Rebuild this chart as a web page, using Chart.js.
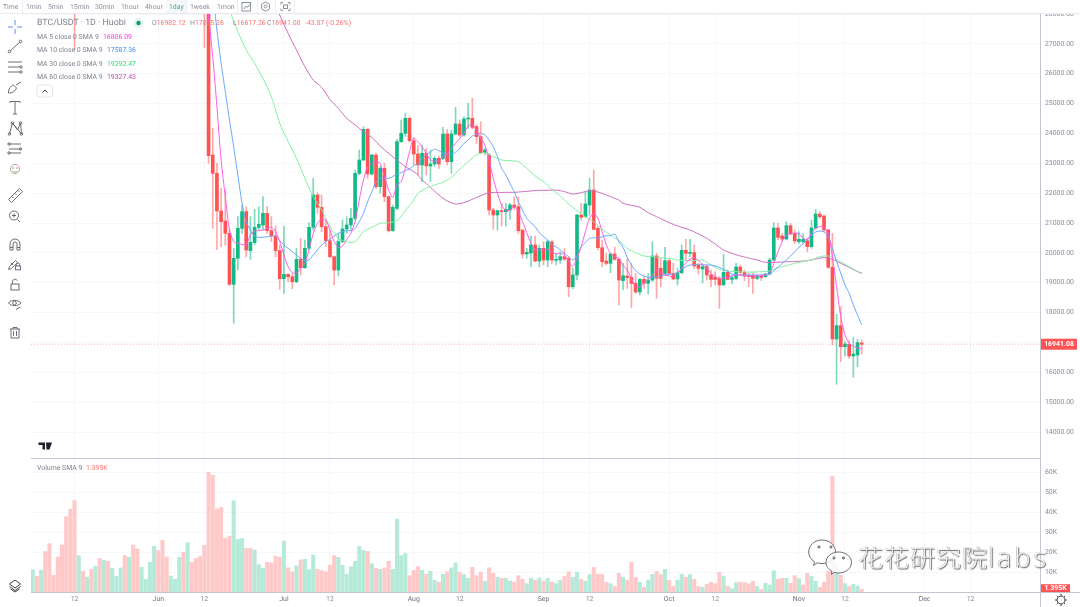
<!DOCTYPE html>
<html>
<head>
<meta charset="utf-8">
<title>BTC/USDT 1D Huobi</title>
<script src="https://cdn.jsdelivr.net/npm/chart.js@4/dist/chart.umd.min.js"></script>
<style>
  html, body { margin: 0; padding: 0; background: #fff; }
  #page { position: relative; width: 1080px; height: 607px; overflow: hidden; font-family: Roboto, sans-serif; font-size: 6.9px; color: #7d8290; text-rendering: geometricPrecision; }
  canvas { position: absolute; }
  #priceCanvas { left: 31px; top: 12px; }
  #volumeCanvas { left: 31px; top: 459px; }
  .t { position: absolute; white-space: nowrap; line-height: 10px; }
  .rule { position: absolute; background: #c3c6d2; }
  #toolbar { position: absolute; left: 0; top: 0; width: 1080px; height: 13px; background: #fff; border-bottom: 1px solid #e9ebf1; }
  #toolbar .t { top: 2px; color: #8b909e; }
  #toolbar .sep { position: absolute; top: 0; width: 1px; height: 13px; background: #eceef3; }
  #mark { position: absolute; left: 858px; top: 540px; white-space: nowrap; color: rgba(255,255,255,.85); font-family: "Noto Sans CJK SC", sans-serif; font-size: 25px; line-height: 34px; font-weight: 300; letter-spacing: 1px; text-shadow: 1px 1px 1px rgba(50,50,50,.75), -0.5px -0.5px 0.5px rgba(90,90,90,.5); }
  #mark span { font-family: "Open Sans", sans-serif; font-size: 27px; letter-spacing: 3px; }
  svg { position: absolute; left: 0; top: 0; }
</style>
</head>
<body>
<div id="page">
  <canvas id="priceCanvas" width="1049" height="446"></canvas>
  <canvas id="volumeCanvas" width="1049" height="148"></canvas>

  <div class="rule" style="left:31px;top:458px;width:1009px;height:1px"></div>
  <div class="rule" style="left:31px;top:592px;width:1049px;height:1px"></div>
  <div class="rule" style="left:1040px;top:13px;width:1px;height:594px"></div>

  <div id="toolbar">
    <div class="sep" style="left:22px"></div>
    <div class="sep" style="left:166px"></div>
    <div class="sep" style="left:186px"></div>
    <div class="sep" style="left:237px"></div>
    <div class="sep" style="left:257px"></div>
    <div class="sep" style="left:275px"></div>
    <div class="sep" style="left:294px"></div>
    <div style="position:absolute;left:166px;top:0;width:20px;height:13px;background:#f5f7f9"></div>
    <div class="t" style="left:3px">Time</div>
    <div class="t" style="left:26px">1min</div>
    <div class="t" style="left:48px">5min</div>
    <div class="t" style="left:70px">15min</div>
    <div class="t" style="left:95px">30min</div>
    <div class="t" style="left:121px">1hour</div>
    <div class="t" style="left:145px">4hour</div>
    <div class="t" style="left:169px;color:#3fae94">1day</div>
    <div class="t" style="left:190px">1week</div>
    <div class="t" style="left:217px">1mon</div>
  </div>

  <div class="t" style="left:37px;top:18px;font-size:8.8px;color:#7b8090">BTC/USDT · 1D · Huobi</div>
  <div class="t" style="left:152px;top:18px;color:#ff6f6f"><span style="color:#868b98">O</span>16982.12</div>
  <div class="t" style="left:190px;top:18px;color:#ff6f6f"><span style="color:#868b98">H</span>17085.26</div>
  <div class="t" style="left:233px;top:18px;color:#ff6f6f"><span style="color:#868b98">L</span>16617.26</div>
  <div class="t" style="left:267px;top:18px;color:#ff6f6f"><span style="color:#868b98">C</span>16941.08</div>
  <div class="t" style="left:305px;top:18px;color:#ff6f6f">-43.87 (-0.26%)</div>

  <div class="t" style="left:37px;top:32px">MA 5 close 0 SMA 9</div>
  <div class="t" style="left:103px;top:32px;color:#f53be0">16806.09</div>
  <div class="t" style="left:37px;top:45px">MA 10 close 0 SMA 9</div>
  <div class="t" style="left:107px;top:45px;color:#3d8df5">17587.36</div>
  <div class="t" style="left:37px;top:59px">MA 30 close 0 SMA 9</div>
  <div class="t" style="left:107px;top:59px;color:#27df6d">19292.47</div>
  <div class="t" style="left:37px;top:72px">MA 60 close 0 SMA 9</div>
  <div class="t" style="left:107px;top:72px;color:#c44ca8">19327.43</div>

  <div class="t" style="left:37px;top:463px">Volume SMA 9</div>
  <div class="t" style="left:86px;top:463px;color:#ff6f6f">1.395K</div>

  <svg width="1080" height="607" viewBox="0 0 1080 607" fill="none" stroke="#6a6d77" stroke-width="1">
    <!-- collapse button -->
    <rect x="37" y="85" width="15.5" height="12" rx="2" stroke="#e3e5eb"/>
    <path d="M42.5 92.5l2.5-2.5 2.5 2.5" stroke="#444"/>
    <!-- status dot -->
    <circle cx="138.5" cy="23" r="5" fill="#e3f5ef" stroke="none"/>
    <circle cx="138.5" cy="23" r="2.2" fill="#0c9c76" stroke="none"/>
    <!-- top toolbar icons -->
    <rect x="242" y="2.5" width="8.5" height="8.5" stroke="#8b909e"/>
    <path d="M244 9l2-3 1.5 1.5 2-3" stroke="#8b909e"/>
    <path d="M265.5 2l4 2.3v4.6l-4 2.3-4-2.3V4.300z" stroke="#8b909e"/>
    <circle cx="265.500" cy="6.500" r="1.500" stroke="#8b909e"/>
    <path d="M281 4.500V2.500h2M288 2.500h2v2M290 8.500v2h-2M283 10.500h-2v-2" stroke="#8b909e"/>
    <rect x="283.500" y="5" width="4" height="3.500" stroke="#8b909e"/>
    <!-- left tools -->
    <path d="M15 20v5M15 29v5M8 27h5M17 27h5" stroke="#5b8def"/>
    <path d="M10 51l10-9"/><circle cx="9.500" cy="51.500" r="1.300"/><circle cx="20.500" cy="41.500" r="1.300"/>
    <path d="M8 62h14M8 67h12M8 72h12"/><circle cx="21" cy="67" r="1.200"/><circle cx="21" cy="72" r="1.200"/>
    <path d="M8.500 92c0-3 2-6 5-7l3 3c-1 3-4 5-7 5h-1zM16 85l5-3"/>
    <path d="M10 103v-1.500h10V103M15 101.500V114M13 114h4"/>
    <path d="M9.500 134l3-11 5 7 3-7 1 11M12.500 123l9 11"/><circle cx="9.500" cy="134" r="1.300"/><circle cx="12.500" cy="123" r="1.300"/><circle cx="20.500" cy="123" r="1.300"/><circle cx="21.500" cy="134" r="1.300"/>
    <path d="M9 144h12M9 149h12M9 153h12"/><circle cx="9" cy="144" r="1.200"/><circle cx="20.500" cy="149" r="1.200"/><circle cx="9" cy="153" r="1.200"/>
    <circle cx="15" cy="169" r="4.600" stroke="#c7a78a"/><circle cx="13" cy="168" r=".8" fill="#5c7fc4" stroke="none"/><circle cx="17" cy="168" r=".8" fill="#d06b8c" stroke="none"/><path d="M12.500 171c1.500 1.500 3.500 1.500 5 0" stroke="#7ab38f"/>
    <path d="M8.500 199.500l11-11 3 3-11 11zM12 196.500l1.500 1.500M15 193.500l1.500 1.500M18 190.500l1.500 1.500"/>
    <circle cx="14" cy="215.500" r="4.500"/><path d="M14 213.500v4M12 215.500h4M17.500 219.500l2.500 2.500"/>
    <path d="M10 250v-6a5 5 0 0 1 10 0v6h-3v-6a2 2 0 0 0-4 0v6zM10 247.500h3M17 247.500h3"/>
    <path d="M8.500 269.500l1-3 6-6 2 2-6 6zM11 263l2 2"/><rect x="15.500" y="266" width="5" height="3.800"/><path d="M16.500 266v-1.500a1.500 1.500 0 0 1 3 0V266"/>
    <rect x="11" y="284" width="8" height="6"/><path d="M12.500 284v-2.500a2.500 2.500 0 0 1 4.800-.8"/>
    <path d="M8.500 303c2-3.500 10-3.500 12.500 0-2.500 3.500-10.500 3.500-12.500 0z"/><circle cx="14.500" cy="303" r="1.800"/><path d="M16 309.500l4.500-2.500"/>
    <path d="M10 329h10M13 329v-1.500h4V329M11 329v9h8v-9M13.500 331v5M16.500 331v5"/>
    <path d="M15 580l5.500 4-5.500 4-5.500-4zM9.500 586.500l5.500 4 5.500-4M10.500 589l4.500 3 4.500-3" stroke="#3f4148"/>
    <path d="M1061 596a4 4 0 1 0 .01 0zM1061 594v2M1061 604v2M1055 600h2M1065 600h2M1056.800 595.800l1.400 1.400M1063.800 602.800l1.400 1.400M1065.200 595.800l-1.400 1.400M1058.200 602.800l-1.400 1.400" stroke="#44464e"/>
    <!-- logo -->
    <path d="M38.500 442.500h6.500v7h-2.500v-4.500h-4zM46 442.500h6l-2.500 7H46.500z" fill="#1e222d" stroke="none"/>
    <!-- watermark bubbles -->
    <g stroke="#6d6d6d" stroke-width="1" fill="rgba(255,255,255,.82)">
      <path d="M822 540c7.500 0 13.500 5 13.500 12 0 6.500-6 11.500-13.500 11.500-1.700 0-3.300-.2-4.800-.7l-3.700 2.700 1-3.800c-3.600-2.100-5.800-5.500-5.800-9.700 0-7 6-12 13.300-12z"/>
      <path d="M838.500 552c7.500 0 13 4.800 13 10.500s-5.500 10.500-13 10.500c-1.500 0-3-.2-4.300-.6l-3 2 .8-3.200c-3.700-1.900-6-5-6-8.700 0-5.700 5.300-10.500 12.500-10.500z"/>
      <circle cx="819" cy="547" r="1.100" fill="#999"/><circle cx="831" cy="547" r="1.100" fill="#d98080"/>
      <circle cx="834" cy="558" r="1.100" fill="#7cc"/><circle cx="843.500" cy="558" r="1.100" fill="#999"/>
    </g>
  </svg>
  <div id="mark">花花研究院<span>labs</span></div>
</div>

<script>
// x axis: day number, 0 = 2 May
const dayTicks = [10, 30, 41, 60, 71, 91, 102, 122, 133, 152, 163, 183, 194, 213, 224];
const dayLabels = ["12", "Jun", "12", "Jul", "12", "Aug", "12", "Sep", "12", "Oct", "12", "Nov", "12", "Dec", "12"];
const priceTicks = [14000, 15000, 16000, 17000, 18000, 19000, 20000, 21000, 22000, 23000, 24000, 25000, 26000, 27000, 28000];
const volumeTicks = [10, 20, 30, 40, 50, 60];

// candles: first entry is day 10, the rest run from day 41 to day 198
const candleDays = [10];
for (let d = 41; d <= 198; d++) candleDays.push(d);

const opens = [29000,
  28400,28700,23278,22664,21403,21067,20655,18947,19818,
  20822,21380,20074,20342,20856,20934,21325,20744,20566,20074,
  19137,19282,19200,19036,19784,19505,20153,20856,21939,21525,
  20878,20409,19873,19427,20376,20800,20934,21157,22664,23111,
  24138,22642,23278,22218,22832,21883,20744,21492,23725,24004,
  24506,23758,23312,22943,23334,22910,22977,23166,23166,23981,
  23055,23981,24316,23948,24484,24506,24227,23892,23356,23278,
  21436,21269,21414,21380,21436,21604,21548,20766,19963,19996,
  20264,19728,20153,19762,20365,19751,19762,19873,19818,18869,
  19260,21269,21213,21604,22106,20822,20175,19728,19650,19963,
  19784,19070,19226,19181,18980,18690,19114,18980,19092,19896,
  19483,19315,19739,19315,19126,19338,20086,19985,20008,19594,
  19460,19539,19260,19181,19148,18925,19349,19114,19148,19527,
  19349,19237,19248,19148,19226,19204,19293,19762,20834,20566,
  20465,20912,20655,20376,20376,20409,20208,20834,21302,21235,
  20766,19516,17116,17563,16860,16938,16547,16581,16982.12];
const highs = [30000,
  28600,28800,24171,22999,22162,22106,20800,20153,21213,
  21604,21548,21213,21458,21548,21883,21548,21213,20900,20264,
  20900,19300,19310,20153,20487,20431,21012,22497,22017,21939,
  21100,20760,19900,20655,21100,21213,21492,22776,23445,24227,
  24171,23300,23340,22900,23000,21900,21600,23800,24450,24673,
  24560,23870,23613,23613,23500,23445,23221,23250,24205,24138,
  24115,24875,24450,24562,25008,25176,24283,24395,23500,23334,
  21492,21436,21660,21660,21660,21883,21883,20766,20153,20565,
  20565,20264,20376,20431,20431,19985,20041,20153,19873,19483,
  21290,21660,22050,22497,22776,20900,20431,19985,19985,20200,
  19818,19650,19818,19650,19315,19148,19204,19315,20376,19985,
  19818,20186,19818,19650,19483,20265,20454,20454,20264,19650,
  19594,19600,19428,19371,19204,19952,19427,19260,19650,19594,
  19427,19315,19315,19260,19260,19315,19818,21012,20990,20655,
  21045,20990,20767,20711,20650,20487,21101,21459,21381,21269,
  20790,20655,17943,18199,17027,17083,17161,17105,17085.26];
const lows = [26794,
  26873,23000,20822,20119,20208,20264,18900,17641,19427,
  20655,19873,19784,20264,20766,20766,20655,20376,19873,18780,
  18645,19035,18800,19000,19260,19480,20097,20766,21325,20710,
  20208,19850,18924,19226,20340,20655,20766,21100,22608,23089,
  22497,22600,22150,22000,21715,20700,20720,21450,23700,23900,
  23700,22943,22608,22385,22608,22385,22900,22832,23110,22943,
  22664,23950,23900,23900,24171,24150,23669,23334,23278,21269,
  20789,20766,20900,20900,21124,21450,20655,19818,19818,19539,
  19700,19539,19595,19539,19650,19595,19650,19750,18534,18800,
  19092,21100,21190,21269,20780,20100,19539,19600,19338,19750,
  18255,18757,18813,18166,18646,18590,18813,18623,19036,18478,
  18869,19260,19280,19092,18925,19293,19740,19874,19483,19293,
  19000,19092,18869,18925,18143,18920,19092,18980,19092,19260,
  19070,18869,18646,19092,19070,19181,19260,19740,20432,20376,
  20432,20599,20320,20320,20320,20041,20150,20800,21150,20711,
  19483,16915,15598,16357,16547,16458,15833,16190,16617.26];
const closes = [28900,
  28100,23256,22664,21403,21045,20655,18947,19818,20822,
  21380,20096,20353,20856,20956,21325,20744,20566,20074,19137,
  19282,19200,19036,19784,19505,20153,20856,21939,21525,20878,
  20409,19873,19427,20376,20800,20934,21157,22664,23111,24138,
  22642,23278,22218,22832,21883,20744,21525,23725,24004,24506,
  23758,23312,22943,23334,22910,22977,23166,22977,23981,23055,
  23981,24316,23948,24484,24517,24205,23892,23356,23446,21436,
  21269,21414,21380,21459,21604,21525,20744,19963,20018,20264,
  19728,20153,19762,20376,19762,19784,19873,19795,18869,19260,
  21269,21190,21637,22106,20789,20175,19706,19650,19963,19784,
  19092,19237,19170,18980,18690,19114,18980,19092,19896,19148,
  19148,19739,19315,19126,19338,20086,19985,20019,19561,19483,
  19539,19260,19114,19114,18925,19349,19114,19170,19527,19349,
  19226,19204,19148,19226,19181,19293,19762,20834,20521,20465,
  20912,20633,20398,20454,20454,20208,20834,21302,21213,20766,
  19516,17116,17563,16860,16949,16547,16614,16994,16941.08];

// volume in thousands, one per day from day 0
const volumes = [
  11.2,8.0,10.9,20.3,24.3,8.4,17.6,23.6,37.9,41.5,
  45.9,18.3,10.4,7.5,11.4,12.9,16.9,15.9,15.4,11.9,
  7.9,12.1,18.3,17.4,23.6,21.6,12.4,6.4,14.9,22.9,
  20.9,26.0,17.6,8.0,6.4,17.4,19.9,24.8,14.9,16.9,
  17.9,23.5,60.1,58.6,41.7,42.5,27.0,28.0,45.9,26.5,
  26.8,21.9,21.9,21.1,13.7,11.9,14.9,14.6,17.9,17.4,
  25.5,12.1,10.1,13.2,16.1,16.4,11.2,18.6,11.4,10.7,
  10.1,13.4,18.3,17.4,13.4,8.9,12.7,15.4,22.9,20.9,
  20.4,14.2,11.9,11.4,12.1,15.4,11.4,36.5,18.3,19.4,
  8.2,10.9,12.7,10.9,8.9,10.4,5.9,4.9,8.9,10.2,
  12.1,14.6,9.9,8.7,6.9,12.4,8.2,9.9,5.4,12.2,
  9.4,7.4,6.9,6.9,5.5,5.0,8.2,6.4,4.2,6.9,
  5.9,7.0,5.5,6.9,4.9,4.2,5.9,7.9,10.2,7.4,
  9.9,6.4,5.4,8.7,12.4,8.9,8.9,4.9,4.2,2.8,
  9.4,7.4,5.9,14.9,7.4,4.9,2.3,6.0,8.9,10.4,
  8.7,11.4,5.9,2.8,5.9,8.9,7.4,8.7,6.4,2.8,
  2.3,3.9,4.9,4.2,9.9,7.9,2.8,1.7,4.7,5.0,
  4.7,4.2,5.4,2.8,1.2,4.4,3.5,10.7,6.4,6.9,
  6.9,4.4,8.2,6.7,3.5,9.4,7.9,5.4,2.3,4.9,
  10.4,58.1,13.4,8.4,4.2,2.8,3.9,3.0,1.395];
const volumeSides = ["ududdddddd","dududududu","uududduuuu","ddduuududd","dddddddduu","udduuudddd","udduduuudd",
  "ddduuuuuuu","dududduuuu","ddduduudud","uuduudddud","duduuddduu","dududuuddu","uduuddddud",
  "duddduduud","dudduududd","udddduduud","ddduduuudd","uddudduudd","ddududuud"].join("");

// moving averages
const ma5Days = [];
for (let d = 41; d <= 198; d++) ma5Days.push(d);
const ma5Values = [29200,27911,26571,24897,23111,21883,20766,20376,20320,20286,20264,
  20599,20733,20744,20766,20822,20856,20711,20376,19929,19539,
  19338,19315,19483,19650,20097,20655,20990,21135,21101,20766,
  20376,20186,20230,20454,20655,21045,21771,22441,22887,22999,
  23055,22999,22552,22106,21861,22273,22385,22832,23390,23836,
  23725,23557,23334,23111,23055,23088,23222,23334,23501,23669,
  23836,24004,24249,24305,24115,23836,23613,23111,22497,21994,
  21604,21414,21436,21548,21380,21046,20677,20320,20119,20097,
  20097,20119,20041,19963,19985,19929,19706,19539,19818,20208,
  20711,21157,21325,21157,20711,20264,19985,19873,19818,19594,
  19427,19148,18869,18869,18980,19114,19260,19427,19338,19260,
  19226,19204,19338,19483,19673,19784,19851,19740,19617,19483,
  19315,19204,19148,19148,19181,19226,19260,19260,19226,19226,
  19226,19226,19237,19260,19315,19650,20041,20376,20599,20655,
  20655,20655,20487,20432,20655,20822,20878,20856,20655,19874,
  18869,17864,17250,16971,16882,16804,16806];
const ma10Days = [];
for (let d = 43; d <= 198; d++) ma10Days.push(d);
const ma10Values = [28700,27464,26348,25399,24450,23557,22608,21660,21045,20766,20565,
  20521,20521,20543,20565,20565,20409,20264,20153,20041,19929,
  19818,19762,19762,19929,20097,20264,20376,20454,20565,20655,
  20711,20744,20744,20822,21045,21325,21715,22050,22385,22497,
  22497,22497,22552,22642,22687,22754,22810,22921,22999,23166,
  23278,23390,23468,23423,23334,23278,23312,23356,23501,23669,
  23781,23914,23981,24004,23948,23781,23557,23222,22832,22608,
  22329,22050,21715,21436,21157,21012,20878,20677,20543,20431,
  20264,20208,20097,19985,19873,19762,19896,20208,20342,20487,
  20510,20487,20543,20577,20577,20632,20376,20186,19851,19594,
  19405,19293,19226,19181,19181,19204,19226,19260,19282,19293,
  19315,19449,19539,19594,19606,19617,19606,19594,19594,19561,
  19516,19449,19382,19293,19260,19260,19260,19260,19260,19260,
  19260,19271,19293,19394,19516,19650,19762,19896,20041,20186,
  20298,20454,20599,20700,20733,20700,20566,20153,19706,19315,
  18925,18646,18255,17920,17587];
const ma30Days = [47,49,51,53,55,57,59,61,63,65,67,69,71,73,75,77,79,81,83,85,87,89,91,92,
  94,96,98,100,102,104,106,108,110,112,114,116,118,120,122,124,126,128,130,132,134,136,138,140,
  142,144,146,148,150,152,154,156,158,160,162,164,166,168,170,172,174,176,178,180,182,184,186,188,190,192,194,196,198];
const ma30Values = [28134,27408,26795,26348,25846,25232,24339,23725,23166,22497,21883,21436,20878,20487,20365,20376,20711,20856,20990,21012,21079,21414,21771,21994,
  22162,22273,22363,22530,22798,23055,23278,23356,23222,23111,23088,23055,22832,22575,22385,22128,21905,21637,21414,21213,21046,20789,20599,20409,
  20153,20008,19896,19874,19840,19818,19762,19740,19740,19762,19594,19449,19394,19371,19360,19360,19371,19394,19505,19572,19650,19717,19762,19874,19896,19784,19617,19461,19292];
const ma60Days = [57,59,61,63,65,67,69,71,73,75,77,79,81,83,85,87,89,91,92,
  93,95,97,99,101,103,105,107,109,111,113,115,117,119,121,123,125,127,129,131,133,135,137,139,140,
  141,143,145,147,149,151,153,155,157,159,161,163,165,167,169,171,173,175,177,179,181,183,185,187,189,191,193,195,197,198];
const ma60Values = [28600,27967,27353,26795,26236,25790,25544,25142,24841,24506,24283,24059,23870,23580,23334,23111,22887,22720,22608,
  22441,22195,21939,21738,21637,21682,21794,21916,22017,22017,22028,22028,22050,22073,22095,22095,22106,22050,21972,22017,22084,22039,21939,21827,21771,
  21660,21593,21526,21347,21213,21079,20956,20856,20767,20633,20487,20298,20097,19985,19896,19829,19762,19684,19684,19695,19706,19717,19740,19795,19840,19784,19650,19516,19371,19327];

const lastClose = 16941.08;
const lastVolume = 1.395;

const RED = "#ff5252", GREEN = "#12b886";

Chart.defaults.font.family = "Roboto, sans-serif";
Chart.defaults.font.size = 6.9;
Chart.defaults.animation = false;

const toXY = (days, vals) => days.map((d, i) => ({ x: d, y: vals[i] }));
const maLine = (days, vals, color) => ({
  type: "line", data: toXY(days, vals), borderColor: color, borderWidth: 1,
  pointRadius: 0, tension: 0.25, order: 0,
});

// small text gets rounded glyph widths without this
const sharpText = {
  id: "sharpText",
  beforeDraw(chart) { chart.ctx.textRendering = "geometricPrecision"; },
};

// right axis tag (last price / last volume)
const tagPlugin = (value, text, width, up, down) => ({
  id: "tag",
  afterDraw(chart) {
    const ctx = chart.ctx, y = chart.scales.y.getPixelForValue(value);
    const left = chart.chartArea.right + 1;
    ctx.save();
    ctx.fillStyle = RED;
    ctx.fillRect(left, y - up, width, up + down);
    ctx.fillStyle = "#fff";
    ctx.font = "bold 6.9px Roboto, sans-serif";
    ctx.textAlign = "center";
    ctx.textBaseline = "middle";
    ctx.fillText(text, left + width / 2, y - up + (up + down) / 2 + 0.5);
    ctx.restore();
  },
});

const xMin = -0.406, xMax = 240.58;
const gridColor = "#f6f7f9";
// the label overhang would shrink the plot, the panes have fixed pixel sizes here
const noPad = (s) => { s.paddingTop = s.paddingBottom = s.paddingLeft = s.paddingRight = 0; };

const xScale = (showLabels) => ({
  type: "linear", min: xMin, max: xMax, offset: false,
  afterBuildTicks: (s) => { s.ticks = dayTicks.map((v) => ({ value: v })); },
  afterFit: (s) => { s.height = showLabels ? 15 : 0; noPad(s); },
  grid: { color: gridColor, drawTicks: false, offset: false },
  border: { display: false },
  ticks: {
    display: showLabels, autoSkip: false, maxRotation: 0, padding: 3,
    color: (c) => (c.tick && c.index % 2 === 1 ? "#6c7080" : "#868b98"),
    callback: (v) => dayLabels[dayTicks.indexOf(v)],
  },
});
const yScale = (min, max, list, fmt) => ({
  position: "right", min, max,
  afterBuildTicks: (s) => { s.ticks = list.map((v) => ({ value: v })); },
  afterFit: (s) => { s.width = 40; noPad(s); },
  grid: { color: gridColor, drawTicks: false },
  border: { display: false },
  ticks: { color: "#868b98", padding: 5, autoSkip: false, callback: fmt },
});

new Chart(document.getElementById("priceCanvas"), {
  type: "bar",
  data: {
    datasets: [
      maLine(ma5Days, ma5Values, "#ff5cec"),
      maLine(ma10Days, ma10Values, "#6aa6ff"),
      maLine(ma30Days, ma30Values, "#7ff0a2"),
      maLine(ma60Days, ma60Values, "#cf6cbc"),
      {
        type: "line", data: [{ x: xMin, y: lastClose }, { x: xMax, y: lastClose }],
        borderColor: "rgba(255,82,82,.45)", borderWidth: 1, borderDash: [1, 2], pointRadius: 0, order: 0,
      },
      {
        // bodies
        data: candleDays.map((d, i) => ({ x: d, y: [opens[i], closes[i]] })),
        backgroundColor: candleDays.map((d, i) => (closes[i] >= opens[i] ? GREEN : RED)),
        barThickness: 3, minBarLength: 1, grouped: false, order: 1,
      },
      {
        // wicks
        data: candleDays.map((d, i) => ({ x: d, y: [lows[i], highs[i]] })),
        backgroundColor: candleDays.map((d, i) => (closes[i] >= opens[i] ? "rgba(18,184,134,.55)" : "rgba(255,82,82,.5)")),
        barThickness: 1, grouped: false, order: 2,
      },
    ],
  },
  options: {
    responsive: false,
    layout: { padding: 0 },
    plugins: { legend: { display: false }, tooltip: { enabled: false } },
    scales: {
      x: xScale(false),
      y: yScale(13131, 28067, priceTicks, (v) => v.toFixed(2)),
    },
  },
  plugins: [sharpText, tagPlugin(lastClose, "16941.08", 36, 5.5, 5.5)],
});

new Chart(document.getElementById("volumeCanvas"), {
  type: "bar",
  data: {
    datasets: [{
      data: volumes.map((v, i) => ({ x: i, y: v })),
      backgroundColor: volumes.map((v, i) => (volumeSides[i] === "u" ? "#b6ead8" : "#ffc9c9")),
      barThickness: 3.4, grouped: false,
    }],
  },
  options: {
    responsive: false,
    layout: { padding: 0 },
    plugins: { legend: { display: false }, tooltip: { enabled: false } },
    scales: {
      x: xScale(true),
      y: yScale(0, 66.8, volumeTicks, (v) => v + "K"),
    },
  },
  plugins: [sharpText, tagPlugin(lastVolume, "1.395K", 29, 5, 3)],
});
</script>
</body>
</html>
